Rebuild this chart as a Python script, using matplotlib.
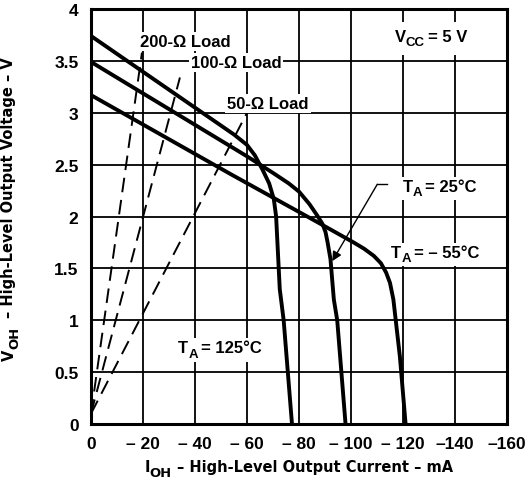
import matplotlib
matplotlib.use("Agg")
import matplotlib.pyplot as plt
from matplotlib.patches import Rectangle
from matplotlib.transforms import IdentityTransform, Bbox

plt.rcParams['font.family'] = ['Liberation Sans', 'DejaVu Sans']
plt.rcParams['font.weight'] = 'bold'

# ---- data (I in mA, V in volts) ----
i_125 = [0, -55, -60, -63, -66, -68.5, -70.3, -71.2, -72.6, -74.1, -77.3]
v_125 = [3.74, 2.79, 2.69, 2.59, 2.45, 2.32, 2.17, 2.0, 1.3, 1.0, 0.0]

i_25 = [0, -60, -70, -76, -80, -84, -87, -89, -90.2, -91, -92.1, -93.4, -94.7, -97.9]
v_25 = [3.49, 2.58, 2.42, 2.32, 2.24, 2.12, 2.01, 1.93, 1.85, 1.75, 1.59, 1.2, 1.0, 0.0]

i_m55 = [0, -53.6, -88.2, -101, -105, -108.8, -111.5, -113.5, -115, -116.3, -118.8, -121]
v_m55 = [3.17, 2.41, 1.93, 1.75, 1.69, 1.62, 1.55, 1.46, 1.36, 1.2, 0.65, 0.0]

load_200_i = [0, -19.6]
load_200_v = [0.1, 3.58]
load_100_i = [0, -34.2]
load_100_v = [0.1, 3.34]
load_50_i = [0, -60]
load_50_v = [0.1, 3.0]

x_ticks = [0, -20, -40, -60, -80, -100, -120, -140, -160]
x_tick_labels = ['0', '– 20', '– 40', '– 60', '– 80', '– 100', '– 120', '–140', '–160']
y_ticks = [0, 0.5, 1, 1.5, 2, 2.5, 3, 3.5, 4]
y_tick_labels = ['0', '0.5', '1', '1.5', '2', '2.5', '3', '3.5', '4']

W, H = 532, 485
fig = plt.figure(figsize=(W / 100, H / 100), dpi=100)
ax = fig.add_axes([91 / W, 1 - 425 / H, 416 / W, 415 / H])

ax.set_xlim(0, -160)
ax.set_ylim(0, 4)
ax.set_xticks(x_ticks)
ax.set_xticklabels(x_tick_labels)
ax.set_yticks(y_ticks)
ax.set_yticklabels(y_tick_labels)
ax.tick_params(length=0, labelsize=12.5, pad=9)
for lab in ax.get_xticklabels() + ax.get_yticklabels():
    lab.set_fontweight('bold')
ax.grid(True, color='black', linewidth=1.3)
ax.set_axisbelow(True)
for s in ax.spines.values():
    s.set_linewidth(2.2)

# curves
for xi, yi in [(i_125, v_125), (i_25, v_25), (i_m55, v_m55)]:
    ax.plot(xi, yi, color='black', linewidth=2.8, solid_joinstyle='round', zorder=3)
for xi, yi in [(load_200_i, load_200_v), (load_100_i, load_100_v), (load_50_i, load_50_v)]:
    ax.plot(xi, yi, color='black', linewidth=1.4, linestyle=(0, (7.5, 4)), zorder=3)

renderer = fig.canvas.get_renderer()


def text_width(s, size, family):
    t = fig.text(0, 0, s, fontsize=size, fontweight='bold', family=family)
    w = t.get_window_extent(renderer).width
    t.remove()
    return w


def rich(x, y, parts, coords, rotation=0, family=None, white=True, pad=2):
    """parts: list of (text, size, drop_px, gap_px); laid out centred on x (or y if rotated)."""
    fam = family or ['Liberation Sans', 'DejaVu Sans']
    widths = [text_width(p[0], p[1], fam) for p in parts]
    total = sum(w + p[3] for w, p in zip(widths, parts))
    pos = -total / 2
    made = []
    for w, (s, size, drop, gap) in zip(widths, parts):
        pos += gap
        off = (pos, -drop) if rotation == 0 else (drop, pos)
        t = ax.annotate(s, xy=(x, y), xycoords=coords, xytext=off, textcoords='offset pixels',
                        ha='left', va='baseline', rotation=rotation, rotation_mode='anchor',
                        fontsize=size, fontweight='bold', family=fam, color='black',
                        annotation_clip=False, zorder=5)
        made.append(t)
        pos += w
    if white:
        bb = Bbox.union([t.get_window_extent(renderer) for t in made])
        rect = Rectangle((bb.x0 - pad, bb.y0 - pad), bb.width + 2 * pad, bb.height + 2 * pad,
                         transform=IdentityTransform(), facecolor='white', edgecolor='none',
                         zorder=4, clip_on=False)
        ax.add_artist(rect)


fs = 12
sub = 9.5
rich(-36.2, 3.64, [('200-Ω Load', fs, 0, 0)], 'data')
rich(-55.8, 3.44, [('100-Ω Load', fs, 0, 0)], 'data')
rich(-68, 3.05, [('50-Ω Load', fs, 0, 0)], 'data')
rich(-130.8, 3.69, [('V', fs, 0, 0), ('CC', sub, 4, 0), ('= 5 V', fs, 0, 3)], 'data', pad=7)
rich(-134.2, 2.25, [('T', fs, 0, 0), ('A', sub, 4.5, 0), ('= 25°C', fs, 0, 3)], 'data')
rich(-132.4, 1.61, [('T', fs, 0, 0), ('A', sub, 4.5, 0), ('= – 55°C', fs, 0, 3)], 'data')
rich(-49.6, 0.69, [('T', fs, 0, 0), ('A', sub, 4.5, 0), ('= 125°C', fs, 0, 3)], 'data')

# arrow for 25 C
ax.plot([-113.9, -110.1], [2.31, 2.31], color='black', linewidth=1.0, zorder=4)
ax.annotate('', xy=(-92.8, 1.57), xytext=(-110.1, 2.31),
            arrowprops=dict(arrowstyle='-|>', color='black', lw=1.0, mutation_scale=14,
                            shrinkA=0, shrinkB=0), zorder=4)

# axis labels
lab_fam = ['DejaVu Sans']
lfs = 10.5
rich(298.5, 13, [('I', lfs, 0, 0), ('OH', lfs * 0.9, 5, 0),
                 ('– High-Level Output Current – mA', lfs, 0, 5)],
     'figure pixels', family=lab_fam, white=False)
rich(13.5, 276, [('V', lfs, 0, 0), ('OH', lfs * 0.9, 5, 0),
                 ('– High-Level Output Voltage – V', lfs, 0, 9)],
     'figure pixels', rotation=90, family=lab_fam, white=False)

fig.savefig('out.png', dpi=100)
